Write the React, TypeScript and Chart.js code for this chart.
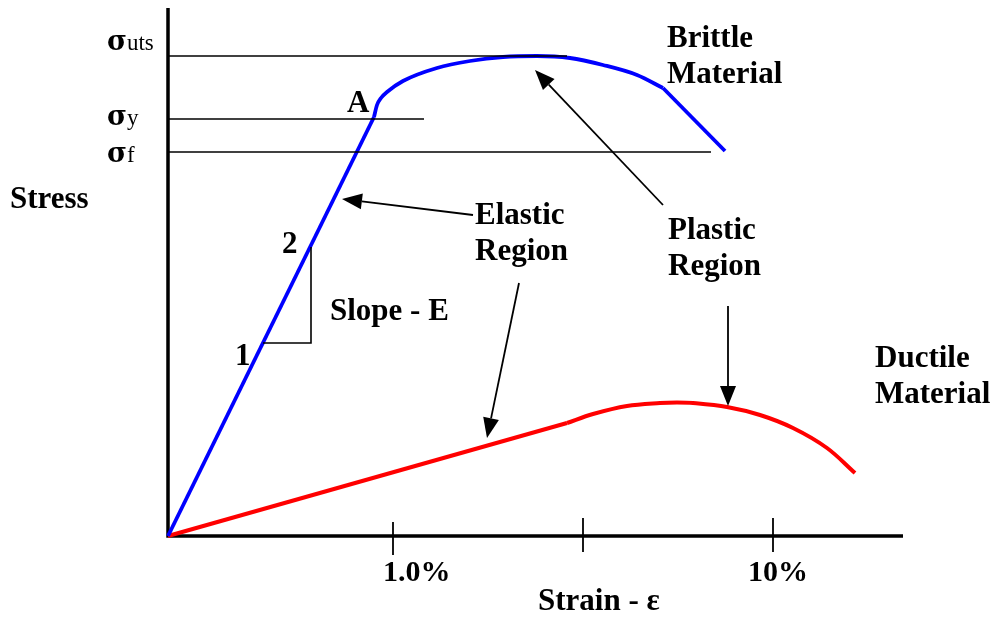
import React, { useEffect, useRef } from "react";
import { Chart, registerables } from "chart.js";

Chart.register(...registerables);

// Schematic axis extents (arbitrary strain / stress units)
const strainMax = 735;
const stressMax = 528;

// Brittle material curve (blue)
const brittleElasticStrain = [0, 206];
const brittleElasticStress = [0, 419];
const brittlePlasticStrain = [206, 209, 213, 219, 235, 269, 302, 335, 369, 402, 435, 469, 495];
const brittlePlasticStress = [419, 431, 438, 444, 455, 468, 475, 479, 480, 478, 471, 461, 448];
const brittleFractureStrain = [495, 557];
const brittleFractureStress = [448, 385];

// Ductile material curve (red)
const ductileElasticStrain = [0, 399];
const ductileElasticStress = [0, 113];
const ductilePlasticStrain = [399, 425, 459, 492, 509, 525, 559, 592, 625, 659, 687];
const ductilePlasticStress = [113, 122, 130, 133, 133.5, 133, 129, 121, 108, 88, 63];

// Stress levels (σuts, σy, σf), guide line ends and label baselines
const stressLevelNames = ["uts", "y", "f"];
const stressLevelValues = [480, 417, 384];
const stressLevelLineEnds = [399, 256, 543];
const stressLevelLabelBase = [486, 411, 374];

// Strain axis ticks
const strainTickValues = [225, 415, 605];
const strainTickLabels = ["1.0%", "", "10%"];

const toPts = (xs: number[], ys: number[]) => xs.map((x, i) => ({ x, y: ys[i] }));

// Annotations: [text, x (left), y (baseline)] in data units
const labels: [string, number, number][] = [
  ["Stress", -158, 328],
  ["A", 179, 424],
  ["Brittle", 499, 489],
  ["Material", 499, 453],
  ["Elastic", 307, 312],
  ["Region", 307, 276],
  ["Plastic", 500, 297],
  ["Region", 500, 261],
  ["Ductile", 707, 169],
  ["Material", 707, 133],
  ["Slope - E", 162, 216],
  ["2", 114, 283],
  ["1", 67, 171],
  ["Strain - ε", 370, -74],
];

// Arrows: from (x,y) to tip (x,y)
const arrows = [
  [305, 321, 174, 337],
  [351, 253, 319, 98],
  [495, 331, 367, 466],
  [560, 230, 560, 130],
];

// Slope triangle: on the elastic line from stress 193 up to 289
const slopeLow = { x: 95, y: 193 };
const slopeHigh = { x: 143, y: 289 };

const FONT = '"Liberation Serif", "Times New Roman", serif';

const schematic = {
  id: "schematic",
  beforeDatasetsDraw(chart: any) {
    const { ctx, scales } = chart;
    const px = (v: number) => scales.x.getPixelForValue(v);
    const py = (v: number) => scales.y.getPixelForValue(v);
    ctx.save();
    ctx.strokeStyle = "#000";
    ctx.lineWidth = 3.5;
    ctx.lineCap = "butt";
    ctx.beginPath();
    ctx.moveTo(px(0), py(stressMax));
    ctx.lineTo(px(0), py(0));
    ctx.lineTo(px(strainMax), py(0));
    ctx.stroke();
    ctx.lineWidth = 1.8;
    strainTickValues.forEach((v, i) => {
      const top = i === 0 ? 14 : 18;
      const bot = i === 0 ? -19 : -16;
      ctx.beginPath();
      ctx.moveTo(px(v), py(top));
      ctx.lineTo(px(v), py(bot));
      ctx.stroke();
    });
    ctx.restore();
  },
  afterDatasetsDraw(chart: any) {
    const { ctx, scales } = chart;
    const px = (v: number) => scales.x.getPixelForValue(v);
    const py = (v: number) => scales.y.getPixelForValue(v);
    ctx.save();
    ctx.fillStyle = "#000";
    ctx.strokeStyle = "#000";
    ctx.lineWidth = 1.6;
    ctx.beginPath();
    ctx.moveTo(px(slopeLow.x), py(slopeLow.y));
    ctx.lineTo(px(slopeHigh.x), py(slopeLow.y));
    ctx.lineTo(px(slopeHigh.x), py(slopeHigh.y));
    ctx.stroke();
    arrows.forEach(([x1, y1, x2, y2]) => {
      const ax = px(x1), ay = py(y1), bx = px(x2), by = py(y2);
      const ang = Math.atan2(by - ay, bx - ax);
      const len = 20, half = 8;
      const baseX = bx - len * Math.cos(ang);
      const baseY = by - len * Math.sin(ang);
      ctx.lineWidth = 1.8;
      ctx.beginPath();
      ctx.moveTo(ax, ay);
      ctx.lineTo(baseX, baseY);
      ctx.stroke();
      ctx.beginPath();
      ctx.moveTo(bx, by);
      ctx.lineTo(baseX + half * Math.sin(ang), baseY - half * Math.cos(ang));
      ctx.lineTo(baseX - half * Math.sin(ang), baseY + half * Math.cos(ang));
      ctx.closePath();
      ctx.fill();
    });
    ctx.textBaseline = "alphabetic";
    ctx.textAlign = "left";
    ctx.font = `bold 31px ${FONT}`;
    labels.forEach(([t, x, y]) => ctx.fillText(t, px(x), py(y)));
    ctx.font = `bold 30px ${FONT}`;
    strainTickValues.forEach((v, i) => {
      if (!strainTickLabels[i]) return;
      const off = i === 0 ? -10 : -25;
      ctx.fillText(strainTickLabels[i], px(v) + off, py(-45));
    });
    stressLevelNames.forEach((n, i) => {
      const x0 = px(-61);
      const yb = py(stressLevelLabelBase[i]);
      ctx.font = `bold 27px "DejaVu Serif", ${FONT}`;
      ctx.fillText("σ", x0, yb);
      const w = ctx.measureText("σ").width;
      ctx.font = `23px ${FONT}`;
      ctx.fillText(n, x0 + w, yb);
    });
    ctx.restore();
  },
};

export default function App() {
  const ref = useRef<HTMLCanvasElement>(null);
  useEffect(() => {
    if (!ref.current) return;
    const guide = (i: number) => ({
      data: [
        { x: 0, y: stressLevelValues[i] },
        { x: stressLevelLineEnds[i], y: stressLevelValues[i] },
      ],
      borderColor: "#000",
      borderWidth: 1.6,
      order: 0,
    });
    const curve = (xs: number[], ys: number[], color: string, mode: string, w: number) => ({
      data: toPts(xs, ys),
      borderColor: color,
      borderWidth: w,
      tension: mode === "straight" ? 0 : 0.35,
      cubicInterpolationMode: mode === "monotone" ? "monotone" : "default",
      borderJoinStyle: "round",
      order: 1,
    });
    const chart = new Chart(ref.current, {
      type: "scatter",
      data: {
        datasets: [
          curve(brittleElasticStrain, brittleElasticStress, "#0000ff", "straight", 3.8),
          curve(brittlePlasticStrain, brittlePlasticStress, "#0000ff", "monotone", 3.8),
          curve(brittleFractureStrain, brittleFractureStress, "#0000ff", "straight", 3.8),
          curve(ductileElasticStrain, ductileElasticStress, "#ff0000", "straight", 4),
          curve(ductilePlasticStrain, ductilePlasticStress, "#ff0000", "smooth", 4),
          guide(0),
          guide(1),
          guide(2),
        ].map((d: any) => ({ ...d, showLine: true, pointRadius: 0, fill: false, clip: false })),
      },
      options: {
        responsive: false,
        animation: false,
        events: [],
        layout: { padding: { left: 168, right: 95, top: 8, bottom: 82 } },
        plugins: { legend: { display: false }, tooltip: { enabled: false } },
        scales: {
          x: { type: "linear", min: 0, max: strainMax, display: false },
          y: { type: "linear", min: 0, max: stressMax, display: false },
        },
      },
      plugins: [schematic],
    } as any);
    return () => chart.destroy();
  }, []);
  return (
    <div style={{ position: "fixed", left: 0, top: 0, width: 998, height: 618, background: "#fff" }}>
      <canvas ref={ref} width={998} height={618} />
    </div>
  );
}
